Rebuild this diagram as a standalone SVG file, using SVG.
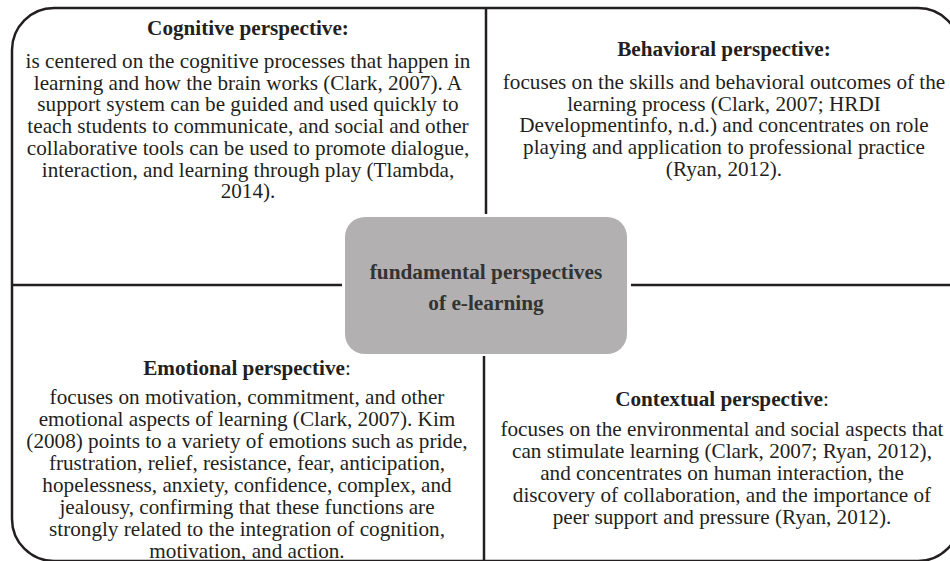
<svg xmlns="http://www.w3.org/2000/svg" width="950" height="561" viewBox="0 0 950 561">
<style>
text{font-family:'Liberation Serif','DejaVu Serif',serif}
.t{font-size:21.2px;fill:#231f20;text-anchor:middle}
.b{font-weight:bold}
.ln{stroke:#231f20;stroke-width:2.5;fill:none}
.c{font-size:21.3px;font-weight:bold;fill:#333;text-anchor:middle}
</style>
<rect x="0" y="0" width="950" height="561" fill="#fff"/>
<g id="frame">
<rect class="ln" x="12" y="8" width="948" height="553" rx="42" ry="42"/>
</g>
<g id="connectors">
<line class="ln" x1="486" y1="8" x2="486" y2="214"/>
<line class="ln" x1="484" y1="356" x2="484" y2="561"/>
<line class="ln" x1="12" y1="285" x2="342" y2="285"/>
<line class="ln" x1="631" y1="285" x2="960" y2="285"/>
</g>
<g id="center">
<rect x="345" y="217" width="282" height="137" rx="20" ry="20" fill="#b2b0b1"/>
<text class="c" x="486" y="279">fundamental perspectives</text>
<text class="c" x="486" y="310">of e-learning</text>
</g>
<g id="cognitive">
<text class="t b" x="248" y="35">Cognitive perspective:</text>
<text class="t" x="248" y="68">is centered on the cognitive processes that happen in</text>
<text class="t" x="248" y="89.7">learning and how the brain works (Clark, 2007). A</text>
<text class="t" x="248" y="111.4">support system can be guided and used quickly to</text>
<text class="t" x="248" y="133.1">teach students to communicate, and social and other</text>
<text class="t" x="248" y="154.8">collaborative tools can be used to promote dialogue,</text>
<text class="t" x="248" y="176.5">interaction, and learning through play (Tlambda,</text>
<text class="t" x="248" y="198.2">2014).</text>
</g>
<g id="behavioral">
<text class="t b" x="724" y="56">Behavioral perspective:</text>
<text class="t" x="724" y="89">focuses on the skills and behavioral outcomes of the</text>
<text class="t" x="724" y="110.7">learning process (Clark, 2007; HRDI</text>
<text class="t" x="724" y="132.4">Developmentinfo, n.d.) and concentrates on role</text>
<text class="t" x="724" y="154.1">playing and application to professional practice</text>
<text class="t" x="724" y="175.8">(Ryan, 2012).</text>
</g>
<g id="emotional">
<text class="t" x="247" y="375"><tspan class="b">Emotional perspective</tspan>:</text>
<text class="t" x="247" y="404">focuses on motivation, commitment, and other</text>
<text class="t" x="247" y="426">emotional aspects of learning (Clark, 2007). Kim</text>
<text class="t" x="247" y="448">(2008) points to a variety of emotions such as pride,</text>
<text class="t" x="247" y="470">frustration, relief, resistance, fear, anticipation,</text>
<text class="t" x="247" y="492">hopelessness, anxiety, confidence, complex, and</text>
<text class="t" x="247" y="514">jealousy, confirming that these functions are</text>
<text class="t" x="247" y="536">strongly related to the integration of cognition,</text>
<text class="t" x="247" y="558">motivation, and action.</text>
</g>
<g id="contextual">
<text class="t" x="722" y="406"><tspan class="b">Contextual perspective</tspan>:</text>
<text class="t" x="722" y="436">focuses on the environmental and social aspects that</text>
<text class="t" x="722" y="458">can stimulate learning (Clark, 2007; Ryan, 2012),</text>
<text class="t" x="722" y="480">and concentrates on human interaction, the</text>
<text class="t" x="722" y="502">discovery of collaboration, and the importance of</text>
<text class="t" x="722" y="524">peer support and pressure (Ryan, 2012).</text>
</g>
</svg>
